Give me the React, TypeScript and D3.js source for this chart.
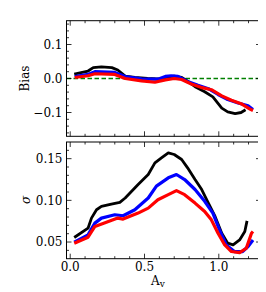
import React from 'react';
import { scaleLinear, line, range } from 'd3';

// Bias panel: [Av, bias]
const biasBlack = [
  [0.027, 0.013], [0.12, 0.022], [0.155, 0.032], [0.21, 0.034], [0.28, 0.032], [0.32, 0.025],
  [0.37, 0.007], [0.435, 0.003], [0.52, 0.0], [0.61, -0.002], [0.66, 0.005], [0.70, 0.007],
  [0.75, 0.003], [0.79, -0.008], [0.84, -0.024], [0.905, -0.039], [0.96, -0.054], [1.02, -0.087],
  [1.06, -0.098], [1.11, -0.103], [1.15, -0.1], [1.18, -0.092]
];
const biasBlue = [
  [0.03, 0.006], [0.12, 0.012], [0.166, 0.02], [0.30, 0.018], [0.37, 0.006], [0.48, -0.001],
  [0.59, -0.002], [0.64, 0.006], [0.68, 0.008], [0.725, 0.006], [0.79, -0.009], [0.86, -0.02],
  [0.93, -0.03], [0.995, -0.047], [1.06, -0.062], [1.13, -0.072], [1.197, -0.08], [1.23, -0.091]
];
const biasRed = [
  [0.03, 0.003], [0.12, 0.008], [0.166, 0.014], [0.30, 0.012], [0.37, 0.0], [0.48, -0.007],
  [0.57, -0.011], [0.64, -0.004], [0.70, 0.0], [0.75, -0.003], [0.815, -0.016], [0.88, -0.026],
  [0.95, -0.033], [1.02, -0.051], [1.085, -0.064], [1.15, -0.074], [1.21, -0.09], [1.23, -0.094]
];

// Sigma panel: [Av, sigma]
const sigBlack = [
  [0.027, 0.0554], [0.12, 0.0666], [0.143, 0.0787], [0.177, 0.0887], [0.21, 0.0927], [0.277, 0.0955],
  [0.334, 0.0976], [0.37, 0.1028], [0.457, 0.119], [0.525, 0.131], [0.57, 0.145], [0.614, 0.151],
  [0.66, 0.157], [0.70, 0.155], [0.75, 0.149], [0.79, 0.139], [0.84, 0.125], [0.885, 0.113],
  [0.93, 0.0967], [0.975, 0.0807], [1.02, 0.0606], [1.06, 0.0486], [1.096, 0.0465], [1.14, 0.0525],
  [1.175, 0.0627], [1.19, 0.0754]
];
const sigBlue = [
  [0.027, 0.0498], [0.12, 0.0586], [0.166, 0.0727], [0.21, 0.0787], [0.30, 0.0827], [0.356, 0.0815],
  [0.435, 0.0887], [0.525, 0.1028], [0.58, 0.117], [0.66, 0.127], [0.715, 0.131], [0.77, 0.125],
  [0.84, 0.113], [0.905, 0.0988], [0.96, 0.0847], [1.005, 0.0646], [1.05, 0.0465], [1.105, 0.0386],
  [1.16, 0.0386], [1.197, 0.0446], [1.23, 0.0525]
];
const sigRed = [
  [0.027, 0.0486], [0.12, 0.0558], [0.166, 0.0687], [0.23, 0.0727], [0.32, 0.0787], [0.356, 0.0775],
  [0.457, 0.0847], [0.525, 0.0907], [0.59, 0.1007], [0.66, 0.1068], [0.715, 0.1116], [0.77, 0.1068],
  [0.84, 0.0967], [0.905, 0.0867], [0.95, 0.0766], [0.995, 0.0606], [1.04, 0.0465], [1.085, 0.0386],
  [1.14, 0.0373], [1.185, 0.0425], [1.22, 0.0606], [1.23, 0.0627]
];

const xTicks = [0.0, 0.5, 1.0];
const biasTicks = [-0.1, 0.0, 0.1];
const sigTicks = [0.05, 0.10, 0.15];

const FONT = '"DejaVu Serif", serif';
const FS = 12;

const left = 58.5, right = 253;
const top1 = 12.7, bot1 = 128.3;
const top2 = 134, bot2 = 250.7;

function Panel({ yDomain, y0, y1, majors, minorStep, fmt, series, zeroLine, showX }) {
  const x = scaleLinear().domain([-0.025, 1.284]).range([left, right]);
  const y = scaleLinear().domain(yDomain).range([y1, y0]);
  const xMinor = range(0, 13).map((i) => i / 10).filter((v) => v > -0.025 && v < 1.284);
  const n = Math.round((yDomain[1] - yDomain[0]) / minorStep) + 2;
  const yMinor = range(0, n)
    .map((i) => Math.round((Math.ceil(yDomain[0] / minorStep) + i) * minorStep * 1000) / 1000)
    .filter((v) => v > yDomain[0] && v < yDomain[1]);
  const lineFn = line().x((d) => x(d[0])).y((d) => y(d[1]));
  const colors = ['#000000', '#0000ff', '#ff0000'];
  return (
    <g>
      {zeroLine && (
        <line x1={left} x2={right} y1={y(0)} y2={y(0)} stroke="#008000" strokeWidth={1.5} strokeDasharray="4.5,2.5" />
      )}
      {series.map((s, i) => (
        <path key={i} d={lineFn(s)} fill="none" stroke={colors[i]} strokeWidth={i === 0 ? 2.8 : 3.2} strokeLinejoin="round" />
      ))}
      <rect x={left} y={y0} width={right - left} height={y1 - y0} fill="none" stroke="#000" strokeWidth={1} />
      {xMinor.map((v, i) => {
        const major = xTicks.some((t) => Math.abs(t - v) < 1e-6);
        const len = major ? 5 : 2.5;
        return (
          <g key={'x' + i} stroke="#000" strokeWidth={0.8}>
            <line x1={x(v)} x2={x(v)} y1={y1} y2={y1 - len} />
            <line x1={x(v)} x2={x(v)} y1={y0} y2={y0 + len} />
          </g>
        );
      })}
      {yMinor.map((v, i) => {
        const major = majors.some((t) => Math.abs(t - v) < 1e-6);
        const len = major ? 5 : 2.5;
        return (
          <g key={'y' + i} stroke="#000" strokeWidth={0.8}>
            <line x1={left} x2={left + len} y1={y(v)} y2={y(v)} />
            <line x1={right} x2={right - len} y1={y(v)} y2={y(v)} />
          </g>
        );
      })}
      {majors.map((v, i) => (
        <text key={'yl' + i} x={left - 4} y={y(v)} dy="0.36em" textAnchor="end" fontSize={FS} fontFamily={FONT}>
          {fmt(v)}
        </text>
      ))}
      {showX && xTicks.map((v, i) => (
        <text key={'xl' + i} x={x(v)} y={y1 + 12.5} textAnchor="middle" fontSize={FS} fontFamily={FONT}>
          {v.toFixed(1)}
        </text>
      ))}
    </g>
  );
}

export default function App() {
  const fmtBias = (v) => (v < 0 ? '\u2212' + Math.abs(v).toFixed(1) : v.toFixed(1));
  const fmtSig = (v) => v.toFixed(2);
  return (
    <svg width={266} height={292} style={{ display: 'block', margin: 0 }}>
      <Panel yDomain={[-0.17, 0.17]} y0={top1} y1={bot1} majors={biasTicks} minorStep={0.02}
        fmt={fmtBias} series={[biasBlack, biasBlue, biasRed]} zeroLine showX={false} />
      <Panel yDomain={[0.03, 0.17]} y0={top2} y1={bot2} majors={sigTicks} minorStep={0.01}
        fmt={fmtSig} series={[sigBlack, sigBlue, sigRed]} zeroLine={false} showX />
      <text transform="translate(21,70.5) rotate(-90)" textAnchor="middle" fontSize={FS} fontFamily={FONT}>Bias</text>
      <text transform="translate(22,192) rotate(-90)" textAnchor="middle" fontSize={FS} fontFamily={FONT} fontStyle="italic">σ</text>
      <text x={150} y={277} textAnchor="middle" fontSize={FS} fontFamily={FONT}>
        A<tspan fontSize={9} dy={2}>v</tspan>
      </text>
    </svg>
  );
}
